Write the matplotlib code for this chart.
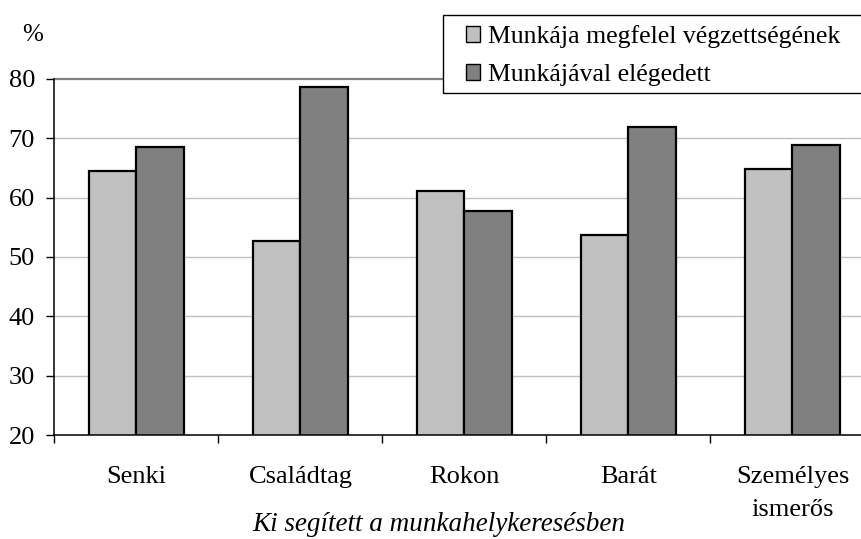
import numpy as np
import matplotlib
matplotlib.use("Agg")
import matplotlib.pyplot as plt
from matplotlib.patches import Patch, Rectangle

plt.rcParams['font.family'] = ['Liberation Serif', 'DejaVu Serif']

# data
categories = ['Senki', 'Családtag', 'Rokon', 'Barát', 'Személyes\nismerős']
megfelel = [64.5, 52.7, 61.1, 53.7, 64.8]
elegedett = [68.5, 78.6, 57.8, 71.9, 68.9]
series_names = ['Munkája megfelel végzettségének', 'Munkájával elégedett']
yticks = [20, 30, 40, 50, 60, 70, 80]

W, H = 862, 539
fig = plt.figure(figsize=(W / 100, H / 100), dpi=100)

# plot area runs past the right edge of the picture, as in the original
left, right_px, top_px, bottom_px = 54.5, 874.5, 79, 435
ax = fig.add_axes([left / W, 1 - bottom_px / H, (right_px - left) / W, (bottom_px - top_px) / H])

light, dark = '#c0c0c0', '#808080'
x = np.arange(len(categories)) + 0.5
bw = 0.29
ax.bar(x - bw / 2, megfelel, bw, bottom=0, color=light, edgecolor='black', linewidth=1.6, zorder=3)
ax.bar(x + bw / 2, elegedett, bw, bottom=0, color=dark, edgecolor='black', linewidth=1.6, zorder=3)

ax.set_xlim(0, len(categories))
ax.set_ylim(20, 80)

# gridlines (the 80 line is drawn darker, like the original frame)
for v in yticks[1:-1]:
    ax.axhline(v, color='#c0c0c0', lw=1, zorder=1)
ax.axhline(80, color='#808080', lw=1.6, zorder=2, clip_on=False)

for s in ['top', 'right']:
    ax.spines[s].set_visible(False)
ax.spines['left'].set_linewidth(1.1)
ax.spines['bottom'].set_linewidth(1.1)
ax.spines['left'].set_zorder(4)
ax.spines['bottom'].set_zorder(4)

ax.set_yticks(yticks)
ax.tick_params(axis='y', direction='out', length=5.5, width=1, pad=8.5, labelsize=19)

# boundaries get tick marks, labels sit in the middle
ax.set_xticks(np.arange(len(categories) + 1))
ax.set_xticklabels([])
ax.set_xticks(x, minor=True)
ax.set_xticklabels(categories, minor=True)
ax.tick_params(axis='x', which='major', direction='out', length=5.5, width=1)
ax.tick_params(axis='x', which='minor', length=0, pad=22, labelsize=19)
for t in ax.get_xticklabels(minor=True):
    t.set_linespacing(1.7)

fig.text(33 / W, 1 - 35 / H, '%', ha='center', va='center', fontsize=18)
fig.text(439 / W, 1 - 531 / H, 'Ki segített a munkahelykeresésben', ha='center',
         va='baseline', fontsize=19.5, style='italic')

# legend box (frame drawn separately so it can run off the right edge)
fig.patches.append(Rectangle((442.7 / W, 1 - 92.7 / H), 440 / W, 77.7 / H,
                             transform=fig.transFigure, facecolor='white',
                             edgecolor='black', lw=1, zorder=5))
handles = [Patch(facecolor=light, edgecolor='black', lw=1),
           Patch(facecolor=dark, edgecolor='black', lw=1)]
leg = fig.legend(handles, series_names, loc='upper left',
                 bbox_to_anchor=(461 / W, 1 - 20 / H), frameon=False,
                 fontsize=18.5, handlelength=0.55, handleheight=0.55,
                 handletextpad=0.3, labelspacing=0.62, borderpad=0.2,
                 borderaxespad=0)
leg.set_zorder(6)

fig.savefig('out.png', dpi=100)
